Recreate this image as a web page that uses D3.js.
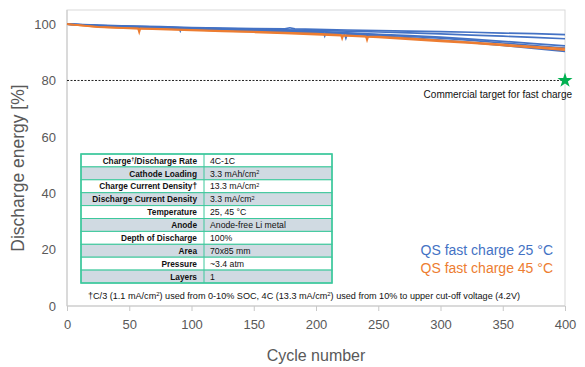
<!DOCTYPE html>
<html><head><meta charset="utf-8">
<script src="https://cdn.jsdelivr.net/npm/d3@7"></script>
<style>body{margin:0;background:#fff}svg{display:block}</style>
</head><body>
<svg id="c" width="585" height="367"></svg>
<script>
const xTicks = [0,50,100,150,200,250,300,350,400];
const yTicks = [0,20,40,60,80,100];
const target = 80;
const blue25 = [
  [[0,100],[25,99.6],[50,99.3],[75,99.1],[100,98.8],[125,98.6],[150,98.4],[175,98.3],[179,98.7],[183,98.3],[200,98.1],[225,97.9],[250,97.7],[275,97.5],[300,97.3],[325,97.1],[350,96.8],[375,96.6],[400,96.3]],
  [[0,100],[25,99.5],[50,99.2],[75,98.9],[90,98.7],[91,97.6],[92,98.7],[100,98.7],[125,98.4],[150,98.2],[175,98.0],[200,97.8],[225,97.5],[250,97.2],[275,96.9],[300,96.5],[325,96.1],[350,95.7],[375,95.3],[400,94.8]],
  [[0,100],[25,99.5],[50,99.2],[75,98.9],[100,98.6],[125,98.3],[150,98.0],[175,97.7],[200,97.4],[225,96.9],[250,96.4],[275,95.9],[300,95.4],[325,94.7],[350,93.9],[375,93.1],[400,92.3]],
  [[0,100],[25,99.4],[50,99.1],[75,98.8],[100,98.5],[125,98.2],[150,97.9],[175,97.6],[200,97.2],[206,97.1],[207,95.8],[208,97.0],[225,96.7],[250,96.2],[275,95.6],[300,95.0],[325,94.2],[350,93.3],[375,92.4],[400,91.5]],
  [[0,100],[25,99.4],[50,99.0],[75,98.7],[100,98.3],[125,98.0],[150,97.6],[175,97.3],[200,96.9],[223,96.5],[224,95.0],[225,96.4],[250,95.8],[275,95.1],[300,94.3],[325,93.4],[350,92.4],[375,91.4],[400,90.3]]
];
const orange45 = [
  [[0,100],[25,99.0],[50,98.6],[57,98.5],[58,97.0],[59,98.5],[75,98.3],[100,98.0],[125,97.6],[150,97.3],[175,97.0],[200,96.6],[220,96.2],[221,94.8],[222,96.1],[240,95.7],[241,94.2],[242,95.6],[250,95.6],[275,94.9],[300,94.2],[325,93.5],[350,92.8],[375,92.0],[400,91.3]],
  [[0,100],[25,98.9],[50,98.5],[75,98.1],[100,97.8],[125,97.4],[150,97.1],[175,96.7],[200,96.3],[225,95.8],[250,95.3],[275,94.6],[300,93.9],[325,93.2],[350,92.4],[375,91.6],[400,90.8]]
];
const tableRows = [
  ["Charge†/Discharge Rate","4C-1C"],
  ["Cathode Loading","3.3 mAh/cm²"],
  ["Charge Current Density†","13.3 mA/cm²"],
  ["Discharge Current Density","3.3 mA/cm²"],
  ["Temperature","25, 45 °C"],
  ["Anode","Anode-free Li metal"],
  ["Depth of Discharge","100%"],
  ["Area","70x85 mm"],
  ["Pressure","~3.4 atm"],
  ["Layers","1"]
];
const footnote = "†C/3 (1.1 mA/cm²) used from 0-10% SOC, 4C (13.3 mA/cm²) used from 10% to upper cut-off voltage (4.2V)";
const legendLabels = ["QS fast charge 25 °C","QS fast charge 45 °C"];
const targetLabel = "Commercial target for fast charge";
const xTitle = "Cycle number";
const yTitle = "Discharge energy [%]";

const BLUE = "#4472C4", ORANGE = "#ED7D31", GRAY = "#595959";
const FONT = "'Liberation Sans', Arial, sans-serif";
const svg = d3.select("#c");
const x = d3.scaleLinear().domain([0,400]).range([67,565]);
const y = d3.scaleLinear().domain([0,105]).range([306,10]);

// frame
svg.append("rect").attr("x",x(0)).attr("y",y(105)).attr("width",x(400)-x(0)).attr("height",y(0)-y(105))
  .attr("fill","none").attr("stroke","#d9d9d9").attr("stroke-width",1);
svg.append("line").attr("x1",x(0)).attr("x2",x(0)).attr("y1",y(105)).attr("y2",y(0)).attr("stroke","#c8c8c8");
svg.append("line").attr("x1",x(0)).attr("x2",x(400)).attr("y1",y(0)).attr("y2",y(0)).attr("stroke","#c8c8c8");

// x axis
const xa = svg.append("g").attr("transform",`translate(0,${y(0)})`)
  .call(d3.axisBottom(x).tickValues(xTicks).tickSize(5).tickPadding(9).tickFormat(d3.format("d")));
xa.select(".domain").remove();
xa.selectAll("line").attr("stroke","#c8c8c8");
xa.selectAll("text").attr("fill",GRAY).style("font-family",FONT).style("font-size","13px");

// y axis
const ya = svg.append("g").attr("transform",`translate(${x(0)},0)`)
  .call(d3.axisLeft(y).tickValues(yTicks).tickSize(0).tickPadding(11).tickFormat(d3.format("d")));
ya.select(".domain").remove();
ya.selectAll("text").attr("fill",GRAY).style("font-family",FONT).style("font-size","13px");

// titles
svg.append("text").attr("x",316).attr("y",361).attr("text-anchor","middle")
  .attr("fill",GRAY).style("font-family",FONT).style("font-size","16px").text(xTitle);
svg.append("text").attr("transform","translate(24,168) rotate(-90)").attr("text-anchor","middle")
  .attr("fill",GRAY).style("font-family",FONT).style("font-size","17.5px").text(yTitle);

// target line
svg.append("line").attr("x1",x(0)).attr("x2",x(400)).attr("y1",y(target)).attr("y2",y(target))
  .attr("stroke","#222").attr("stroke-width",1).attr("stroke-dasharray","2,1.5");

// data
const line = d3.line().x(d=>x(d[0])).y(d=>y(d[1]));
blue25.forEach(s=>svg.append("path").attr("d",line(s)).attr("fill","none").attr("stroke",BLUE).attr("stroke-width",1.7));
orange45.forEach(s=>svg.append("path").attr("d",line(s)).attr("fill","none").attr("stroke",ORANGE).attr("stroke-width",1.7));

// star
svg.append("path").attr("d",d3.symbol().type(d3.symbolStar).size(70)())
  .attr("transform",`translate(${x(400)},${y(target)})`).attr("fill","#00B050");
svg.append("text").attr("x",572).attr("y",98).attr("text-anchor","end").attr("fill","#111")
  .style("font-family",FONT).style("font-size","10px").text(targetLabel);

// legend
legendLabels.forEach((t,i)=>svg.append("text").attr("x",553).attr("y",255+i*18).attr("text-anchor","end")
  .attr("fill",i===0?BLUE:ORANGE).style("font-family",FONT).style("font-size","14px").text(t));

// table
const tx0=81, tx1=204, tx2=332, ty0=154, rh=12.9;
const tg = svg.append("g");
tableRows.forEach((r,i)=>{
  tg.append("rect").attr("x",tx0).attr("y",ty0+i*rh).attr("width",tx2-tx0).attr("height",rh)
    .attr("fill",i%2===0?"#ffffff":"#d0dae2").attr("stroke","#3cc89c").attr("stroke-width",1);
  tg.append("line").attr("x1",tx1).attr("x2",tx1).attr("y1",ty0+i*rh).attr("y2",ty0+(i+1)*rh).attr("stroke","#3cc89c");
  const lt = tg.append("text").attr("x",tx1-7).attr("y",ty0+i*rh+rh/2+3.2).attr("text-anchor","end")
    .style("font-family",FONT).style("font-size","8.3px").style("font-weight","bold").attr("fill","#111");
  if(r[0].includes("†/")){
    lt.append("tspan").text("Charge");
    lt.append("tspan").attr("dy",-2.8).style("font-size","5.5px").text("†");
    lt.append("tspan").attr("dy",2.8).text("/Discharge Rate");
  } else lt.text(r[0]);
  const rt = tg.append("text").attr("x",tx1+6).attr("y",ty0+i*rh+rh/2+3.2)
    .style("font-family",FONT).style("font-size","8.7px").attr("fill","#111");
  if(r[1].includes("²")){
    rt.append("tspan").text(r[1].replace("²",""));
    rt.append("tspan").attr("dy",-2.8).style("font-size","5.5px").text("2");
  } else rt.text(r[1]);
});
tg.append("rect").attr("x",tx0).attr("y",ty0).attr("width",tx2-tx0).attr("height",rh*10)
  .attr("fill","none").attr("stroke","#3cc89c").attr("stroke-width",1.5);

// footnote
const fn = svg.append("text").attr("x",88).attr("y",299).attr("fill","#111")
  .style("font-family",FONT).style("font-size","9.1px");
footnote.split("²").forEach((p,i,a)=>{
  fn.append("tspan").attr("dy", i===0?0:2.6).text(p);
  if(i<a.length-1) fn.append("tspan").attr("dy",-2.6).style("font-size","5.9px").text("2");
});
</script>
</body></html>
